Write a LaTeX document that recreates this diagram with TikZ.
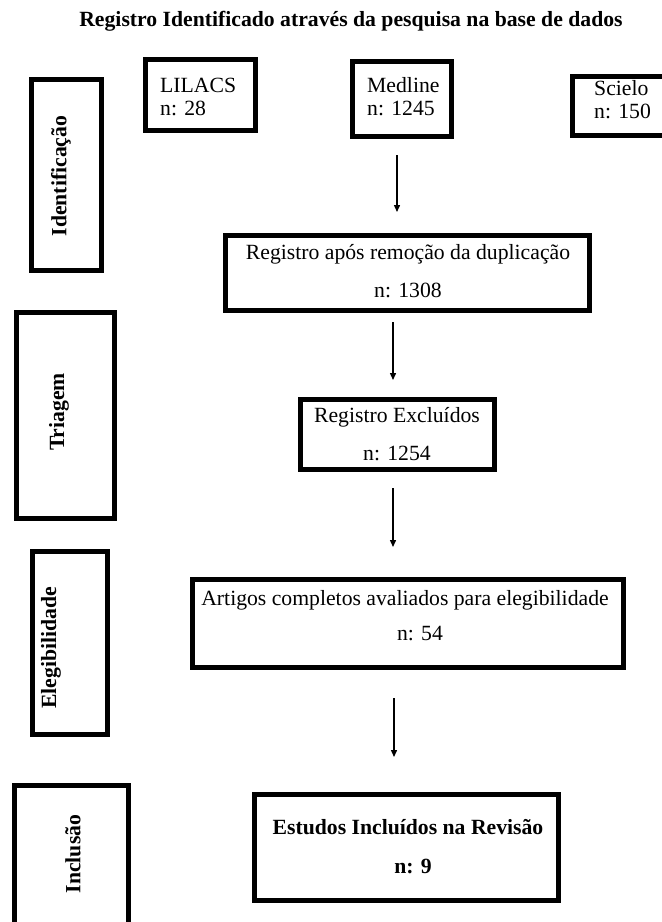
\documentclass[tikz,border=0pt]{standalone}
\usepackage{fontspec}
\setmainfont{Liberation Serif}
\usetikzlibrary{arrows.meta}
\begin{document}
\begin{tikzpicture}[x=1pt,y=-1pt,
  box/.style={draw, line width=5pt, inner sep=0pt, outer sep=2.5pt},
  txt/.style={inner sep=0pt, font=\fontsize{21.7}{26}\selectfont},
  btxt/.style={inner sep=0pt, font=\fontsize{21.7}{26}\selectfont\bfseries},
  side/.style={btxt, rotate=90},
  arr/.style={line width=1.4pt, -{Triangle[length=7pt,width=6pt]}}]
\useasboundingbox (0,0) rectangle (662,922);
\clip (0,0) rectangle (662,922);
\fill[white] (0,0) rectangle (662,922);

% title
\node[btxt, anchor=base] (title) at (351,26) {Registro Identificado através da pesquisa na base de dados};

% stage boxes
\node[box, minimum width=70pt, minimum height=191pt] (ident) at (66.5,175) {};
\node[side] (identt) at (61,176) {Identificação};
\node[box, minimum width=98pt, minimum height=206pt] (triag) at (65.5,415.5) {};
\node[side] (triagt) at (59,412) {Triagem};
\node[box, minimum width=75pt, minimum height=183pt] (eleg) at (70,643) {};
\node[side] (elegt) at (51,648) {Elegibilidade};
\node[box, minimum width=114pt, minimum height=150pt] (incl) at (71.5,860.5) {};
\node[side] (inclt) at (73,854) {Inclusão};

% database boxes
\node[box, minimum width=110pt, minimum height=71pt] (lilacs) at (200.5,95) {};
\node[txt, anchor=base west] (lilacs1) at (160,92) {LILACS};
\node[txt, anchor=base west] (lilacs2) at (160,115) {n: 28};
\node[box, minimum width=99pt, minimum height=75pt] (medline) at (402,99) {};
\node[txt, anchor=base west] (medline1) at (367,92) {Medline};
\node[txt, anchor=base west] (medline2) at (367,115) {n: 1245};
\node[box, minimum width=97pt, minimum height=59pt] (scielo) at (621,106) {};
\node[txt, anchor=base west] (scielo1) at (594,95) {Scielo};
\node[txt, anchor=base west] (scielo2) at (594,118) {n: 150};

% flow boxes
\node[box, minimum width=364pt, minimum height=75pt] (reg) at (407.5,273) {};
\node[txt, anchor=base] (reg1) at (408,259) {Registro após remoção da duplicação};
\node[txt, anchor=base] (reg2) at (408,297) {n: 1308};
\node[box, minimum width=194pt, minimum height=70pt] (excl) at (397.5,434.5) {};
\node[txt, anchor=base] (excl1) at (397,422) {Registro Excluídos};
\node[txt, anchor=base] (excl2) at (397,460) {n: 1254};
\node[box, minimum width=431pt, minimum height=88pt] (art) at (408,623.5) {};
\node[txt, anchor=base] (art1) at (405,605) {Artigos completos avaliados para elegibilidade};
\node[txt, anchor=base] (art2) at (420,640) {n: 54};
\node[box, minimum width=304pt, minimum height=106pt] (est) at (406.5,847.5) {};
\node[btxt, anchor=base] (est1) at (408,834) {Estudos Incluídos na Revisão};
\node[btxt, anchor=base] (est2) at (413,873) {n: 9};

% arrow columns
\coordinate (ax1) at (397,0);
\coordinate (ax2) at (393,0);
\coordinate (ax3) at (393,0);
\coordinate (ax4) at (394,0);
\draw[arr, shorten <=16pt, shorten >=21pt] (medline.south -| ax1) -- (reg.north -| ax1);
\draw[arr, shorten <=9pt, shorten >=17pt] (reg.south -| ax2) -- (excl.north -| ax2);
\draw[arr, shorten <=16pt, shorten >=30pt] (excl.south -| ax3) -- (art.north -| ax3);
\draw[arr, shorten <=28pt, shorten >=35pt] (art.south -| ax4) -- (est.north -| ax4);
\end{tikzpicture}
\end{document}
